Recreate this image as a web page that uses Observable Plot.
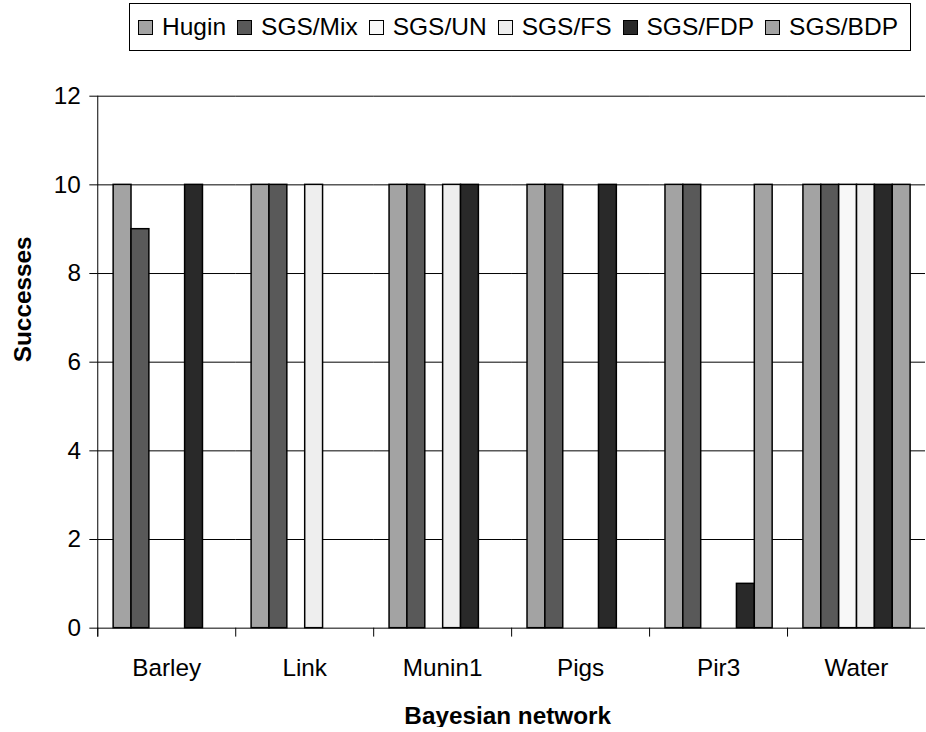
<!DOCTYPE html>
<html><head><meta charset="utf-8">
<script src="https://cdn.jsdelivr.net/npm/d3@7"></script>
<script src="https://cdn.jsdelivr.net/npm/@observablehq/plot@0.6"></script>
<style>
html,body{margin:0;padding:0;overflow:hidden;background:#fff;font-family:"Liberation Sans",Arial,sans-serif;}
#legend{position:relative;height:56px;width:926px;}
#legend .box{position:absolute;right:15px;top:3px;height:48px;border:1px solid #000;display:flex;align-items:center;padding:0 12px 0 8px;box-sizing:border-box;}
#legend .item{display:flex;align-items:center;font-size:24.5px;color:#000;white-space:nowrap;margin-right:11px;}
#legend .item:last-child{margin-right:0;}
#legend .sw{width:13px;height:13px;border:1px solid #000;margin-right:9px;}
#chart svg text{font-family:"Liberation Sans",Arial,sans-serif;}
</style></head>
<body>
<div id="legend"><div class="box"></div></div>
<div id="chart"></div>
<script>
const networks = ["Barley", "Link", "Munin1", "Pigs", "Pir3", "Water"];
const methods = ["Hugin", "SGS/Mix", "SGS/UN", "SGS/FS", "SGS/FDP", "SGS/BDP"];
const colors = ["#a3a3a3", "#595959", "#f8f8f8", "#eeeeee", "#292929", "#a3a3a3"];
const hugin  = [10, 10, 10, 10, 10, 10];
const sgsMix = [9, 10, 10, 10, 10, 10];
const sgsUN  = [0, 0, 0, 0, 0, 10];
const sgsFS  = [0, 10, 10, 0, 0, 10];
const sgsFDP = [10, 0, 10, 10, 1, 10];
const sgsBDP = [0, 0, 0, 0, 10, 10];
const yTicks = [0, 2, 4, 6, 8, 10, 12];

const series = [hugin, sgsMix, sgsUN, sgsFS, sgsFDP, sgsBDP];
const data = [];
networks.forEach((n, i) => methods.forEach((m, j) => data.push({network: n, method: m, value: series[j][i]})));

// legend
const box = document.querySelector("#legend .box");
methods.forEach((m, j) => {
  const it = document.createElement("div"); it.className = "item";
  const sw = document.createElement("span"); sw.className = "sw"; sw.style.background = colors[j];
  const tx = document.createElement("span"); tx.textContent = m;
  it.appendChild(sw); it.appendChild(tx); box.appendChild(it);
});

const W = 933, H = 676, MT = 40, MB = 100, ML = 97;
const plotH = H - MT - MB;
const chart = Plot.plot({
  width: W, height: H,
  marginLeft: ML, marginRight: 0, marginTop: MT, marginBottom: MB,
  style: {fontFamily: '"Liberation Sans", Arial, sans-serif', fontSize: "24.5px", background: "#fff", overflow: "visible"},
  fx: {domain: networks, padding: 0, label: null},
  x: {domain: methods, paddingInner: 0, paddingOuter: 0.745, axis: null},
  y: {domain: [0, 12], label: null},
  color: {domain: methods, range: colors},
  marks: [
    Plot.gridY(yTicks, {stroke: "#000", strokeOpacity: 1, strokeWidth: 1}),
    Plot.barY(data.filter(d => d.value > 0), {fx: "network", x: "method", y: "value", fill: "method", stroke: "#000", strokeWidth: 1.5}),
    Plot.frame({anchor: "left", insetTop: plotH, insetBottom: -8, stroke: "#000"}),
    Plot.frame({anchor: "left", facet: "super", insetBottom: -8, stroke: "#000"}),
    Plot.axisY(yTicks, {tickSize: 8, tickPadding: 9, label: null, tickFormat: d => d}),
    Plot.axisFx({anchor: "bottom", tickSize: 0, tickPadding: 31, label: null}),
    Plot.text(["Successes"], {frameAnchor: "left", dx: -75, rotate: -90, fontWeight: "bold", facet: "super", text: d => d}),
    Plot.text(["Bayesian network"], {frameAnchor: "bottom", dy: 97, dx: -4, fontWeight: "bold", facet: "super", text: d => d})
  ]
});
document.getElementById("chart").appendChild(chart);
</script>
</body></html>
